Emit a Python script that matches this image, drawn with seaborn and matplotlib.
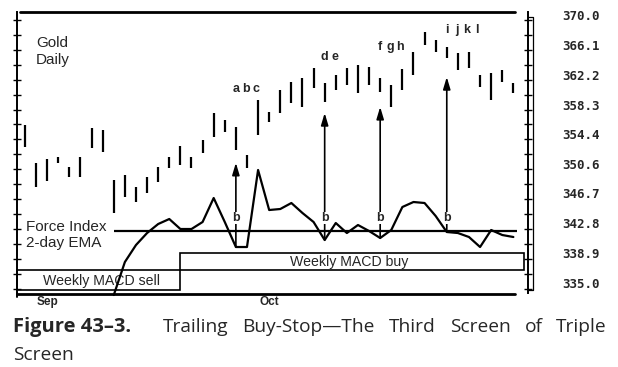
import matplotlib
matplotlib.use("Agg")
import numpy as np
import pandas as pd
import matplotlib.pyplot as plt
import seaborn as sns
from matplotlib.patches import Rectangle
from matplotlib.ticker import FixedLocator

# ---------------- data ----------------
bar_high = [355.6, 350.7, 351.2, 351.5, 350.1, 351.5, 355.2, 355.0, 348.5, 349.1,
            347.5, 348.8, 350.1, 351.5, 352.9, 351.5, 353.7, 357.2, 356.3, 355.4,
            351.7, 358.9, 357.3, 360.2, 361.2, 361.8, 363.1, 361.1, 362.2, 363.1,
            363.5, 363.2, 361.8, 360.9, 363.0, 365.2, 367.8, 366.7, 365.8, 365.0,
            365.2, 362.2, 362.4, 362.8, 361.1]
bar_low = [352.8, 347.5, 348.3, 350.7, 348.8, 348.8, 352.6, 352.1, 344.1, 346.2,
           345.6, 346.8, 348.2, 350.0, 350.4, 350.0, 352.0, 354.1, 354.7, 352.4,
           350.0, 354.3, 356.0, 357.2, 358.5, 358.0, 360.5, 358.6, 360.2, 360.9,
           359.8, 360.9, 359.9, 358.0, 360.2, 362.2, 366.1, 365.2, 364.4, 362.8,
           363.1, 360.6, 358.9, 361.2, 359.8]
force_start = 8
force_index = [-6.4, -3.1, -1.4, -0.2, 0.7, 1.2, 0.2, 0.2, 0.9, 3.3,
               0.9, -1.6, -1.6, 6.1, 2.1, 2.2, 2.8, 1.8, 0.9, -0.9,
               0.8, -0.2, 0.6, 0.0, -0.7, 0.1, 2.4, 2.9, 2.8, 1.5,
               -0.1, -0.2, -0.6, -1.6, 0.1, -0.4, -0.6]
price_ticks = [370.0, 366.1, 362.2, 358.3, 354.4, 350.6, 346.7, 342.8, 338.9, 335.0]
month_labels = ["Sep", "Oct"]
month_idx = [2, 22]
macd_buy_from = 14
signal_idx = [19, 27, 32, 38]
stop_price = [350.7, 357.2, 358.0, 361.9]
letter_groups = [["a", "b", "c"], ["d", "e"], ["f", "g", "h"], ["i", "j", "k", "l"]]
letter_price = [360.3, 364.5, 365.8, 368.0]
caption_bold = "Figure 43\u20133."
caption_line1 = "Trailing Buy-Stop\u2014The Third Screen of Triple"
caption_line2 = "Screen"

# ---------------- figure ----------------
sns.set_theme(style="white")
plt.rcParams["font.family"] = ["Liberation Sans", "DejaVu Sans"]

W, H = 618, 367
fig = plt.figure(figsize=(W / 100, H / 100), dpi=100)
ax = fig.add_axes([0.0275, 0.2016, 0.8269, 0.7657])
ax.set_xlim(-0.72, 45.32)
ax.set_ylim(333.69, 370.39)

idx = np.arange(len(bar_high))
ax.vlines(idx, bar_low, bar_high, color="black", lw=1.6)

# force index on its own (hidden) scale
ax2 = ax.twinx()
ax2.set_ylim(-6.2, 21.9)
ax2.set_xlim(ax.get_xlim())
fdf = pd.DataFrame({"day": np.arange(force_start, force_start + len(force_index)),
                    "force": force_index})
sns.lineplot(data=fdf, x="day", y="force", ax=ax2, color="black", lw=1.6,
             clip_on=False)
ax2.hlines(0, fdf["day"].iloc[0], fdf["day"].iloc[-1] + 0.3, color="black", lw=1.6)
ax2.set_yticks([])
ax2.set_ylabel("")
ax2.set_xlabel("")
for s in ax2.spines.values():
    s.set_visible(False)

# arrows from force index dips to the buy-stop levels
fmap = dict(zip(fdf["day"], fdf["force"]))
for i, sp in zip(signal_idx, stop_price):
    ax.annotate("", xy=(i, sp), xycoords="data",
                xytext=(i, fmap[i]), textcoords=ax2.transData,
                arrowprops=dict(arrowstyle="-|>,head_length=0.6,head_width=0.18",
                                color="black", lw=1.2, shrinkA=0, shrinkB=0))
    ax2.text(i, 1.3, "b", ha="center", va="center", fontsize=9, fontweight="bold",
             bbox=dict(facecolor="white", edgecolor="none", pad=0.3))

# letters above the stop bars
for grp, start, lp in zip(letter_groups, signal_idx, letter_price):
    for k, ch in enumerate(grp):
        ax.text(start + k * 0.9, lp, ch, ha="center", va="center", fontsize=9,
                fontweight="bold")

# weekly MACD boxes
btr = ax.get_xaxis_transform()
x0 = ax.get_xlim()[0]
ax.add_patch(Rectangle((x0, 0.011), macd_buy_from - x0, 0.071,
                       transform=btr, fill=False, edgecolor="black", lw=1.2,
                       clip_on=False))
ax.add_patch(Rectangle((macd_buy_from, 0.082), 44.95 - macd_buy_from, 0.062,
                       transform=btr, fill=False, edgecolor="black", lw=1.2,
                       clip_on=False))
ax.text(0.051, 0.043, "Weekly MACD sell", transform=ax.transAxes, fontsize=10.2,
        va="center", ha="left")
ax.text(0.534, 0.112, "Weekly MACD buy", transform=ax.transAxes, fontsize=10.2,
        va="center", ha="left")

# labels
ax.text(0.037, 0.89, "Gold", transform=ax.transAxes, fontsize=11, va="center")
ax.text(0.037, 0.829, "Daily", transform=ax.transAxes, fontsize=11, va="center")
ax.text(0.018, 0.235, "Force Index", transform=ax.transAxes, fontsize=11, va="center")
ax.text(0.018, 0.178, "2-day EMA", transform=ax.transAxes, fontsize=11, va="center")

# frame
for side in ["top", "bottom"]:
    ax.spines[side].set_visible(False)
for side in ["left", "right"]:
    ax.spines[side].set_linewidth(1.4)
    ax.spines[side].set_color("black")
ax.plot([0.006, 0.975], [1.0, 1.0], transform=ax.transAxes, color="black", lw=2.0,
        clip_on=False)
ax.plot([0.0, 0.975], [-0.004, -0.004], transform=ax.transAxes, color="black", lw=2.0,
        clip_on=False)
ax.plot([0.0, 0.0], [0.0, -0.014], transform=ax.transAxes, color="black", lw=1.4,
        clip_on=False)
# bracket right of the price scale
ax.plot([1.0, 1.0098, 1.0098, 1.0], [0.983, 0.983, 0.01, 0.01], transform=ax.transAxes,
        color="black", lw=0.9, clip_on=False)

# ticks
ax.yaxis.set_major_locator(FixedLocator(price_ticks))
ax.set_yticklabels([f"{v:.1f}" for v in price_ticks], fontfamily="DejaVu Sans Mono",
                   fontweight="bold", fontsize=9)
minor = [369.35 - 1.95 * k for k in range(19)]
ax.yaxis.set_minor_locator(FixedLocator(minor))
ax.tick_params(axis="y", which="major", length=0, left=False, right=False,
               labelleft=False, labelright=True, pad=25)
ax.tick_params(axis="y", which="minor", direction="inout", length=6, width=1,
               left=True, right=True, color="black")
ax.set_xticks(month_idx)
ax.set_xticklabels(month_labels, fontsize=8.5, fontweight="bold",
                   fontfamily=["Liberation Sans Narrow", "Liberation Sans"])
ax.tick_params(axis="x", length=0, pad=2)

# caption (justified first line)
cap_font = ["Open Sans", "Liberation Sans"]
fig.text(13 / W, 1 - 327 / H, caption_bold, fontsize=14.5, fontweight="bold",
         family=cap_font, va="center")
words = caption_line1.split(" ")
wtexts = [fig.text(0, 1 - 327 / H, w, fontsize=13.8, family=cap_font, va="center")
          for w in words]
renderer = fig.canvas.get_renderer()
widths = [t.get_window_extent(renderer).width for t in wtexts]
left_px, right_px = 163, 607
gap = (right_px - left_px - sum(widths)) / (len(words) - 1)
xpos = left_px
for t, wd in zip(wtexts, widths):
    t.set_x(xpos / W)
    xpos += wd + gap
fig.text(13 / W, 1 - 355 / H, caption_line2, fontsize=13.8, family=cap_font,
         va="center")

fig.savefig("out.png", dpi=100, facecolor="white")
